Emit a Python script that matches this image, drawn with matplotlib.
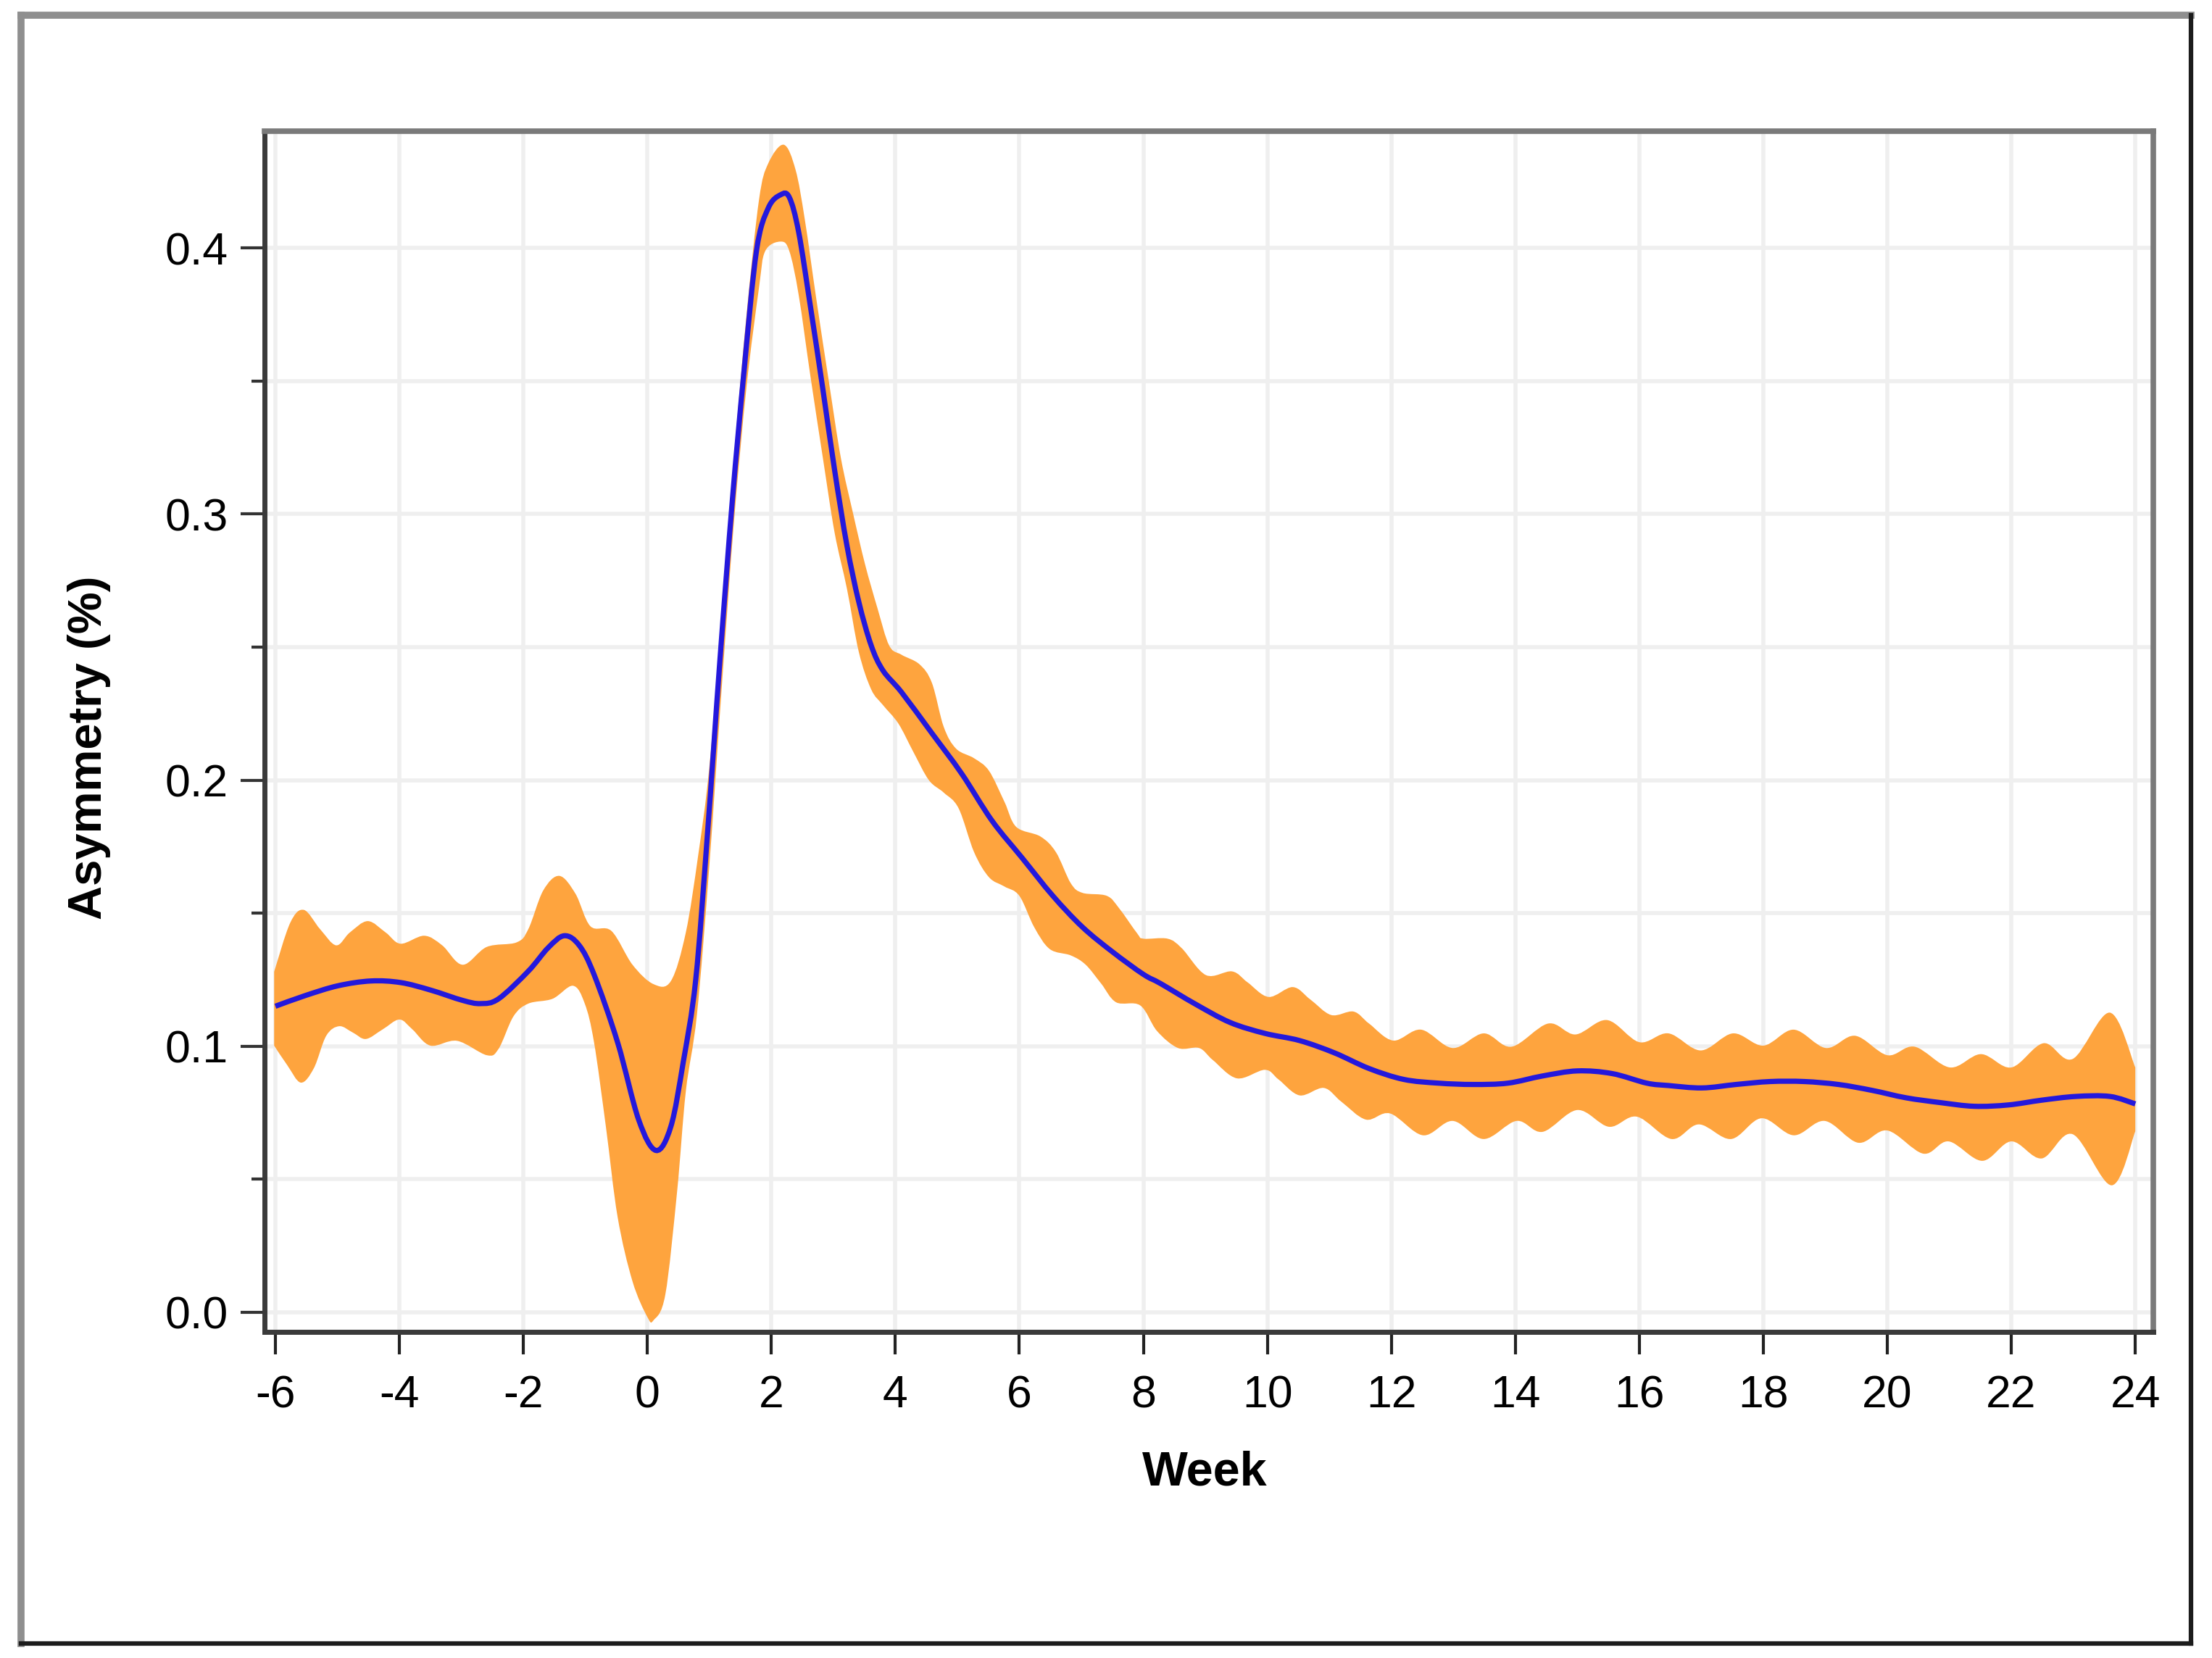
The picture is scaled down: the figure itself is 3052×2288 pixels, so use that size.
import numpy as np
import matplotlib.pyplot as plt
from matplotlib.lines import Line2D
from matplotlib.path import Path
from matplotlib.patches import PathPatch

# kurva rata-rata (minggu, asimetri %)
mean_x = [-6.0, -5.52, -4.99, -4.46, -3.98, -3.5, -2.98, -2.69, -2.4, -1.92, -1.6, -1.34, -1.1,
          -0.86, -0.48, -0.14, 0.14, 0.38, 0.58, 0.78, 0.97, 1.17, 1.37, 1.56, 1.76, 1.95,
          2.15, 2.29, 2.44, 2.63, 2.83, 3.02, 3.22, 3.41, 3.61, 3.80, 4.10, 4.59, 5.07, 5.56,
          6.05, 6.54, 7.02, 7.51, 8.0, 8.28, 8.84, 9.40, 9.96, 10.52, 11.08, 11.64, 12.20,
          12.76, 13.32, 13.88, 14.44, 15.0, 15.56, 16.12, 16.47, 17.01, 17.56, 18.11, 18.66,
          19.21, 19.75, 20.30, 20.85, 21.40, 21.95, 22.49, 23.04, 23.59, 24.0]
mean_y = [0.115, 0.119, 0.1227, 0.1245, 0.1239, 0.1211, 0.1172, 0.116, 0.1178, 0.1282, 0.137,
          0.1415, 0.1379, 0.1269, 0.1014, 0.0723, 0.0608, 0.0699, 0.0942, 0.125, 0.18, 0.245,
          0.305, 0.354, 0.399, 0.415, 0.42, 0.419, 0.406, 0.378, 0.347, 0.3165, 0.288, 0.267,
          0.2506, 0.2412, 0.233, 0.2176, 0.2024, 0.1847, 0.1706, 0.1565, 0.1447, 0.1353, 0.127,
          0.1235, 0.1158, 0.1089, 0.1048, 0.1021, 0.0975, 0.0916, 0.0875, 0.0861, 0.0856,
          0.0861, 0.0888, 0.0907, 0.0897, 0.0861, 0.0852, 0.0843, 0.0856, 0.0867, 0.0867,
          0.0856, 0.0834, 0.0806, 0.0788, 0.0774, 0.0779, 0.0797, 0.0811, 0.0811, 0.0783]

# batas atas pita
upper_x = [-6.02, -5.76, -5.54, -5.28, -5.02, -4.8, -4.51, -4.22, -3.98, -3.6, -3.31, -2.98,
           -2.59, -2.11, -1.92, -1.68, -1.42, -1.16, -0.92, -0.58, -0.24, 0.1, 0.38, 0.62,
           0.82, 1.0, 1.2, 1.4, 1.6, 1.8, 1.95, 2.2, 2.39, 2.54, 2.73, 2.93, 3.12, 3.32, 3.51,
           3.71, 3.90, 4.10, 4.39, 4.59, 4.78, 4.98, 5.27, 5.51, 5.76, 5.95, 6.34, 6.59, 6.83,
           7.02, 7.41, 7.61, 7.90, 8.0, 8.39, 8.62, 9.01, 9.43, 9.68, 10.02, 10.41, 10.69,
           11.03, 11.39, 11.64, 12.03, 12.48, 12.99, 13.49, 13.94, 14.53, 14.97, 15.48, 16.0,
           16.47, 16.99, 17.51, 18.0, 18.49, 19.01, 19.48, 20.0, 20.44, 21.01, 21.51, 22.0,
           22.52, 22.99, 23.59, 24.0]
upper_y = [0.128, 0.1464, 0.1512, 0.144, 0.1379, 0.1427, 0.147, 0.1427, 0.1385, 0.1415,
           0.1379, 0.1306, 0.1373, 0.139, 0.144, 0.1585, 0.164, 0.1573, 0.1451, 0.1433,
           0.1306, 0.1233, 0.1245, 0.1427, 0.1718, 0.205, 0.262, 0.322, 0.375, 0.418, 0.4318,
           0.4388, 0.4294, 0.4106, 0.38, 0.3494, 0.3212, 0.30, 0.2812, 0.2647, 0.2506, 0.2471,
           0.2435, 0.2365, 0.22, 0.2118, 0.2082, 0.2035, 0.1918, 0.1824, 0.1788, 0.1729,
           0.1612, 0.1576, 0.1565, 0.1518, 0.1424, 0.1404, 0.1404, 0.1368, 0.1267, 0.1281,
           0.124, 0.1185, 0.1222, 0.1176, 0.1117, 0.113, 0.1085, 0.1021, 0.1062, 0.0993,
           0.1048, 0.0998, 0.1085, 0.1044, 0.1098, 0.1015, 0.1048, 0.0984, 0.1048, 0.1002,
           0.1062, 0.0993, 0.1039, 0.0966, 0.0998, 0.092, 0.097, 0.092, 0.1011, 0.0952,
           0.1126, 0.092]

# batas bawah pita
lower_x = [-6.02, -5.81, -5.59, -5.38, -5.18, -4.97, -4.75, -4.54, -4.27, -4.0, -3.79, -3.5,
           -3.07, -2.59, -2.4, -2.16, -1.92, -1.53, -1.2, -1.01, -0.86, -0.67, -0.48, -0.24,
           0.0, 0.1, 0.29, 0.48, 0.62, 0.8, 1.0, 1.2, 1.4, 1.6, 1.8, 1.90, 2.15, 2.29, 2.44,
           2.63, 2.83, 3.02, 3.22, 3.41, 3.61, 3.80, 4.05, 4.29, 4.54, 4.78, 5.02, 5.27, 5.51,
           5.76, 6.0, 6.24, 6.49, 6.83, 7.07, 7.32, 7.56, 7.95, 8.22, 8.56, 8.90, 9.12, 9.51,
           9.96, 10.18, 10.52, 10.91, 11.19, 11.59, 11.98, 12.51, 12.99, 13.49, 14.02, 14.44,
           15.0, 15.51, 15.96, 16.52, 16.96, 17.48, 17.97, 18.49, 18.99, 19.53, 20.0, 20.58,
           20.99, 21.53, 22.0, 22.49, 22.99, 23.62, 24.0]
lower_y = [0.1002, 0.0929, 0.0863, 0.0917, 0.1039, 0.1075, 0.1051, 0.1027, 0.1063, 0.11,
           0.1063, 0.1002, 0.102, 0.0966, 0.099, 0.1112, 0.116, 0.1178, 0.1227, 0.116, 0.1014,
           0.0699, 0.0358, 0.0116, -0.0018, -0.003, 0.0067, 0.0455, 0.083, 0.112, 0.168, 0.235,
           0.298, 0.348, 0.385, 0.3988, 0.4024, 0.3988, 0.3824, 0.3518, 0.3212, 0.293, 0.2718,
           0.2482, 0.2341, 0.2282, 0.2212, 0.2106, 0.2, 0.1953, 0.1894, 0.1729, 0.1635, 0.16,
           0.1565, 0.1447, 0.1365, 0.1341, 0.1306, 0.1235, 0.1165, 0.1153, 0.1057, 0.0993,
           0.0993, 0.0948, 0.0879, 0.0911, 0.0875, 0.0815, 0.0843, 0.0792, 0.0724, 0.0747,
           0.0665, 0.0719, 0.0651, 0.0719, 0.0678, 0.076, 0.0697, 0.0735, 0.0651, 0.0706,
           0.0651, 0.0729, 0.0665, 0.0719, 0.0637, 0.0683, 0.0596, 0.0642, 0.0569, 0.0642,
           0.0578, 0.0669, 0.0477, 0.068]

x_ticks = list(range(-6, 25, 2))
y_ticks = [0.0, 0.1, 0.2, 0.3, 0.4]


def smooth_segments(xs, ys):
    # kurva Bezier (Catmull-Rom) yang melewati titik-titik yang dibaca
    p = np.column_stack([xs, ys])
    n = len(p)
    verts, codes = [], []
    for i in range(n - 1):
        p0 = p[i - 1] if i > 0 else p[i]
        p3 = p[i + 2] if i + 2 < n else p[i + 1]
        verts += [p[i] + (p[i + 1] - p0) / 6, p[i + 1] - (p3 - p[i]) / 6, p[i + 1]]
        codes += [Path.CURVE4] * 3
    return verts, codes


plt.rcParams['font.family'] = ['Liberation Sans', 'DejaVu Sans']

W, H = 3052, 2288
fig = plt.figure(figsize=(W / 100, H / 100), dpi=100)
ax = fig.add_axes([365 / W, 1 - 1838 / H, (2971 - 365) / W, (1838 - 181) / H])

# pita kepercayaan
uv, uc = smooth_segments(upper_x, upper_y)
lv, lc = smooth_segments(lower_x[::-1], lower_y[::-1])
band_verts = [(upper_x[0], upper_y[0])] + uv + [(lower_x[-1], lower_y[-1])] + lv + [(0, 0)]
band_codes = [Path.MOVETO] + uc + [Path.LINETO] + lc + [Path.CLOSEPOLY]
ax.add_patch(PathPatch(Path(band_verts, band_codes), facecolor='#FEA43E', lw=0, zorder=2))

# garis rata-rata
mv, mc = smooth_segments(mean_x, mean_y)
ax.add_patch(PathPatch(Path([(mean_x[0], mean_y[0])] + mv, [Path.MOVETO] + mc),
                       fill=False, edgecolor='#2418DC', lw=5.2, capstyle='butt', zorder=3))

ax.set_xlim(-6.175, 24.29)
ax.set_ylim(-0.0074, 0.4439)
ax.set_xticks(x_ticks)
ax.set_xticklabels([str(t) for t in x_ticks])
ax.set_yticks(y_ticks)
ax.set_yticklabels(['%.1f' % t for t in y_ticks])
ax.set_yticks([0.05, 0.15, 0.25, 0.35], minor=True)

ax.grid(True, which='both', axis='y', color='#efefef', lw=4, zorder=0)
ax.grid(True, which='major', axis='x', color='#efefef', lw=4, zorder=0)
ax.set_axisbelow(True)

ax.tick_params(axis='x', which='major', direction='out', length=22, width=3,
               color='#222222', labelsize=45, pad=20)
ax.tick_params(axis='y', which='major', direction='out', length=24, width=3,
               color='#333333', labelsize=45, pad=12)
ax.tick_params(axis='y', which='minor', direction='out', length=13, width=3, color='#333333')

for s in ['left', 'bottom']:
    ax.spines[s].set_color('#3a3a3a')
    ax.spines[s].set_linewidth(5)
for s in ['top', 'right']:
    ax.spines[s].set_color('#7a7a7a')
    ax.spines[s].set_linewidth(5.5)

fig.text(1662 / W, 1 - 2032 / H, 'Week', ha='center', va='center',
         fontsize=48, fontweight='bold')
fig.text(123 / W, 1 - 1032 / H, 'Asymmetry (%)', ha='center', va='center',
         rotation=90, fontsize=47, fontweight='bold')

# bingkai luar
fig.add_artist(Line2D([29 / W, 3023 / W], [1 - 21 / H, 1 - 21 / H],
                      transform=fig.transFigure, color='#8f8f8f', lw=7))
fig.add_artist(Line2D([29 / W, 29 / W], [1 - 21 / H, 1 - 2268 / H],
                      transform=fig.transFigure, color='#8f8f8f', lw=7))
fig.add_artist(Line2D([3023 / W, 3023 / W], [1 - 21 / H, 1 - 2268 / H],
                      transform=fig.transFigure, color='#1c1c1c', lw=4.5))
fig.add_artist(Line2D([29 / W, 3023 / W], [1 - 2268 / H, 1 - 2268 / H],
                      transform=fig.transFigure, color='#1c1c1c', lw=4.5))

fig.savefig('out.png', dpi=100)
